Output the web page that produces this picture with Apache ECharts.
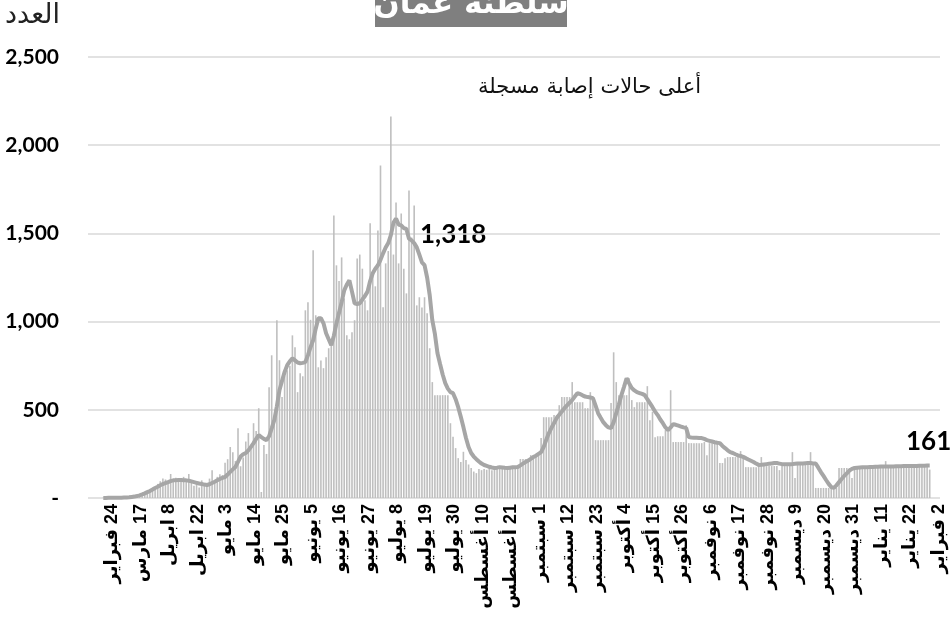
<!DOCTYPE html>
<html>
<head>
<meta charset="utf-8">
<script src="https://cdn.jsdelivr.net/npm/echarts@6/dist/echarts.min.js"></script>
<style>
html,body{margin:0;padding:0;background:#fff}
#chart{width:952px;height:617px}
</style>
</head>
<body>
<div id="chart"></div>
<script>
// أسماء الشهور
var months = ['يناير','فبراير','مارس','ابريل','مايو','يونيو','يوليو','أغسطس','سبتمبر','أكتوبر','نوفمبر','ديسمبر'];

// الأيام الأولى (غير متصلة) [شهر, يوم]
var earlyDates = [[2,24],[2,25],[2,26],[2,27],[2,29],[3,2],[3,3],[3,8],[3,10],[3,12],[3,15],
  [3,17],[3,19],[3,21],[3,23],[3,25],[3,27],[3,29],[3,31],[4,2],[4,4],[4,6],
  [4,8],[4,9],[4,10],[4,11],[4,12],[4,13],[4,15],[4,16],[4,17],[4,19],[4,20]];

// الحالات اليومية
var dailyCases = [
  2, 0, 4, 5, 1, 3, 0, 2, 1, 6,
  5, 8, 10, 12, 15, 18, 22, 30, 35, 48,
  60, 80, 95, 110, 105, 90, 136, 100, 115, 110,
  95, 120, 105, 136, 85, 70, 95, 60, 100, 75,
  80, 110, 158, 90, 120, 135, 130, 200, 220, 289,
  260, 210, 396, 180, 230, 320, 368, 290, 424, 380,
  509, 34, 300, 250, 628, 809, 430, 1008, 781, 572,
  690, 724, 750, 922, 855, 600, 707, 690, 1064, 1109,
  1010, 1404, 1036, 741, 780, 736, 798, 849, 870, 1602,
  1319, 1230, 1364, 1132, 922, 900, 940, 1008, 1358, 1380,
  1300, 1121, 1064, 1557, 1270, 1200, 1517, 1885, 1081, 1330,
  1400, 2162, 1380, 1675, 1330, 1613, 1300, 1160, 1743, 1477,
  1658, 1092, 1138, 1080, 1138, 1047, 849, 657, 583, 583,
  583, 583, 583, 583, 424, 347, 283, 226, 204, 262,
  215, 190, 170, 150, 141, 165, 158, 165, 160, 170,
  158, 170, 175, 165, 170, 172, 168, 175, 170, 172,
  170, 221, 221, 221, 221, 243, 243, 243, 243, 340,
  458, 458, 458, 458, 470, 470, 526, 572, 572, 572,
  572, 657, 543, 543, 543, 543, 509, 509, 600, 570,
  328, 328, 328, 328, 328, 328, 538, 826, 657, 583,
  572, 583, 583, 679, 555, 515, 543, 543, 543, 543,
  634, 441, 489, 345, 350, 350, 350, 385, 390, 611,
  317, 317, 317, 317, 317, 413, 311, 311, 311, 311,
  311, 311, 317, 243, 311, 311, 311, 311, 198, 198,
  226, 232, 232, 232, 232, 232, 266, 232, 175, 175,
  175, 175, 175, 200, 232, 181, 181, 181, 181, 181,
  181, 158, 181, 181, 181, 181, 260, 113, 204, 204,
  204, 204, 204, 260, 192, 57, 57, 57, 57, 57,
  57, 57, 57, 57, 170, 170, 170, 170, 170, 113,
  170, 172, 175, 170, 168, 172, 170, 175, 172, 176,
  172, 170, 209, 174, 172, 176, 178, 174, 172, 190,
  178, 176, 180, 178, 182, 179, 180, 178, 182, 161
];

// المتوسط المتحرك
var movingAvg = [
  0, 0, 1, 1, 2, 2, 2, 2, 3, 3,
  4, 6, 8, 11, 15, 20, 26, 33, 40, 48,
  57, 64, 72, 79, 85, 90, 96, 100, 101, 102,
  102, 101, 100, 98, 94, 90, 86, 82, 79, 76,
  74, 78, 85, 92, 100, 108, 114, 119, 133, 148,
  162, 176, 205, 235, 248, 255, 270, 290, 311, 335,
  357, 345, 335, 328, 350, 395, 441, 520, 611, 665,
  715, 753, 775, 792, 780, 768, 764, 766, 770, 810,
  855, 894, 960, 1019, 1019, 990, 934, 900, 866, 920,
  990, 1050, 1110, 1177, 1210, 1234, 1170, 1104, 1100, 1104,
  1125, 1145, 1170, 1230, 1274, 1300, 1319, 1350, 1387, 1420,
  1445, 1490, 1560, 1585, 1550, 1545, 1530, 1525, 1470, 1460,
  1445, 1421, 1380, 1336, 1320, 1250, 1150, 1008, 930, 821,
  760, 700, 651, 620, 600, 594, 560, 515, 460, 402,
  340, 289, 255, 235, 220, 207, 195, 187, 182, 177,
  173, 170, 172, 175, 173, 171, 170, 172, 174, 175,
  176, 185, 195, 204, 212, 222, 232, 240, 250, 260,
  290, 330, 368, 398, 425, 453, 472, 490, 509, 525,
  540, 555, 575, 594, 590, 582, 575, 572, 570, 566,
  525, 481, 455, 430, 413, 400, 396, 430, 481, 530,
  583, 630, 679, 650, 623, 610, 600, 595, 590, 583,
  560, 538, 515, 490, 470, 445, 424, 400, 385, 400,
  419, 415, 410, 405, 400, 396, 345, 343, 342, 341,
  340, 340, 335, 328, 324, 320, 316, 313, 311, 295,
  283, 270, 260, 255, 248, 242, 238, 233, 226, 218,
  211, 204, 195, 187, 188, 190, 192, 194, 196, 198,
  198, 195, 192, 192, 192, 192, 192, 194, 196, 196,
  196, 197, 198, 198, 196, 196, 172, 147, 125, 102,
  80, 62, 57, 72, 90, 108, 125, 140, 155, 165,
  170, 172, 173, 174, 175, 175, 176, 176, 177, 177,
  178, 178, 178, 179, 179, 179, 180, 180, 180, 181,
  181, 181, 182, 182, 182, 183, 183, 183, 184, 184
];

var yTicks = [0, 500, 1000, 1500, 2000, 2500];

// التواريخ: الأيام الأولى ثم يومياً من 22 ابريل 2020 حتى 2 فبراير 2021
// \u200F يجعل اتجاه النص من اليمين لليسار فيظهر الرقم قرب المحور
function dateLabel(d, m) { return '\u200F' + d + ' ' + months[m]; }
var categories = earlyDates.map(function (d) { return dateLabel(d[1], d[0] - 1); });
var day = new Date(Date.UTC(2020, 3, 22));
var last = new Date(Date.UTC(2021, 1, 2));
while (day <= last) {
  categories.push(dateLabel(day.getUTCDate(), day.getUTCMonth()));
  day = new Date(day.getTime() + 86400000);
}

var myChart = echarts.init(document.getElementById('chart'));

var option = {
  animation: false,
  grid: [
    {left: 88, right: 12, top: 57, bottom: 119},
    {left: 102, right: 21, top: 57, bottom: 119}
  ],
  xAxis: [
    {gridIndex: 0, type: 'value', min: 0, max: 1, show: false},
    {
      gridIndex: 1,
      type: 'category',
      data: categories,
      axisTick: {show: false},
      axisLine: {show: false},
      axisLabel: {
        interval: 10,
        rotate: 90,
        margin: 6,
        verticalAlign: 'top',
        fontSize: 18,
        fontWeight: 'bold',
        color: '#000',
        fontFamily: 'Liberation Sans, DejaVu Sans, sans-serif'
      }
    }
  ],
  yAxis: [
    {
      gridIndex: 0,
      type: 'value',
      min: yTicks[0],
      max: yTicks[yTicks.length - 1],
      interval: 500,
      axisLine: {show: false},
      axisTick: {show: false},
      splitLine: {lineStyle: {color: '#d9d9d9', width: 1.5}},
      axisLabel: {
        margin: 29,
        fontSize: 21,
        fontWeight: 'bold',
        color: '#000',
        fontFamily: 'Lato, Liberation Sans, sans-serif',
        formatter: function (v) { return v === 0 ? '-' : v.toLocaleString('en-US'); }
      }
    },
    {gridIndex: 1, type: 'value', min: 0, max: 2500, show: false}
  ],
  series: [
    {
      type: 'bar',
      xAxisIndex: 1,
      yAxisIndex: 1,
      data: dailyCases,
      barWidth: '62%',
      itemStyle: {color: '#bfbfbf'}
    },
    {
      type: 'line',
      xAxisIndex: 1,
      yAxisIndex: 1,
      data: movingAvg,
      symbol: 'none',
      lineStyle: {color: '#a6a6a6', width: 4},
      itemStyle: {color: '#a6a6a6'}
    }
  ],
  graphic: [
    {type: 'rect', shape: {x: 375, y: 0, width: 192, height: 27}, style: {fill: '#7f7f7f'}},
    {type: 'text', x: 471, y: 5, style: {text: 'سلطنة عمان', fill: '#fff', font: 'bold 31px DejaVu Sans, sans-serif', textAlign: 'center', textVerticalAlign: 'middle', align: 'center', verticalAlign: 'middle'}},
    {type: 'text', x: 5, y: 16, style: {text: 'العدد', fill: '#222', font: '27px DejaVu Sans, sans-serif', textAlign: 'left', textVerticalAlign: 'middle', align: 'left', verticalAlign: 'middle'}},
    {type: 'text', x: 701, y: 88, style: {text: 'أعلى حالات إصابة مسجلة', fill: '#111', font: '21px DejaVu Sans, sans-serif', textAlign: 'right', textVerticalAlign: 'middle', align: 'right', verticalAlign: 'middle'}},
    {type: 'text', x: 420, y: 235, style: {text: '1,318', fill: '#000', font: 'bold 26px Lato, Liberation Sans, sans-serif', textAlign: 'left', textVerticalAlign: 'middle', align: 'left', verticalAlign: 'middle'}},
    {type: 'text', x: 906, y: 442, style: {text: '161', fill: '#000', font: 'bold 26px Lato, Liberation Sans, sans-serif', textAlign: 'left', textVerticalAlign: 'middle', align: 'left', verticalAlign: 'middle'}}
  ]
};
myChart.setOption(option);
</script>
</body>
</html>
